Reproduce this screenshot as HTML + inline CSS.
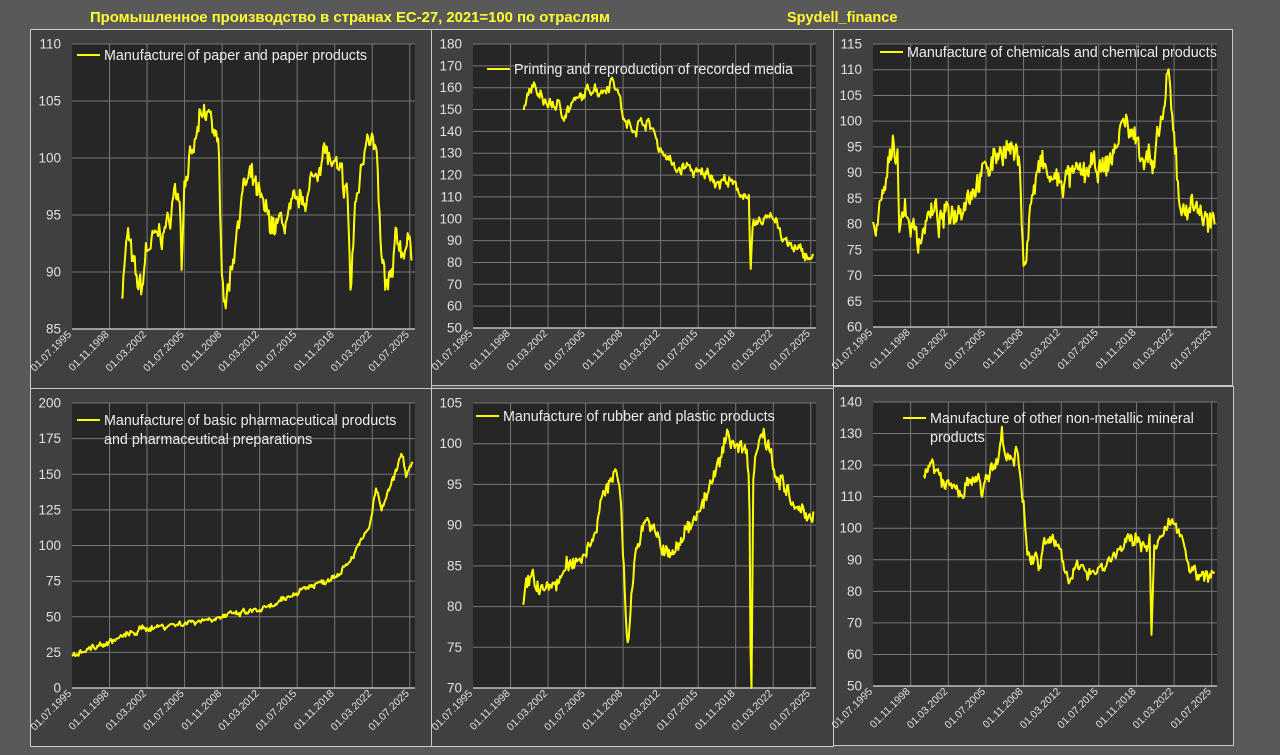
<!DOCTYPE html>
<html><head><meta charset="utf-8">
<style>
html,body{margin:0;padding:0;background:#595959;width:1280px;height:755px;overflow:hidden}
svg{display:block}
</style></head><body>
<svg id="s" width="1280" height="755" xmlns="http://www.w3.org/2000/svg" font-family="Liberation Sans, DejaVu Sans, sans-serif">
<rect x="0" y="0" width="1280" height="755" fill="#595959"/>
<text x="90" y="22" fill="#ffff33" font-size="14.5" font-weight="bold" textLength="520" lengthAdjust="spacingAndGlyphs">Промышленное производство в странах ЕС-27, 2021=100 по отраслям</text>
<text x="787" y="22" fill="#ffff33" font-size="14.5" font-weight="bold">Spydell_finance</text>
</svg>
<script>
var NS="http://www.w3.org/2000/svg",S=document.getElementById('s');
function el(t,a,p){var e=document.createElementNS(NS,t);for(var k in a)e.setAttribute(k,a[k]);(p||S).appendChild(e);return e;}
var seed=7;function rnd(){seed=(seed*16807)%2147483647;return seed/2147483647;}
var xl=["01.07.1995","01.11.1998","01.03.2002","01.07.2005","01.11.2008","01.03.2012","01.07.2015","01.11.2018","01.03.2022","01.07.2025"];
var P=[
{b:[30,29,401,359],p:[72,44,415,329],min:85,max:110,st:5,leg:["Manufacture of paper and paper products"],lx:77,ly:55,nz:0.9,
k:[[1999.9,88],[2000.3,92],[2000.5,93.5],[2000.8,91],[2001.3,89],[2001.7,88.5],[2002.1,92],[2003,93],[2004,94],[2004.6,97],[2005.1,96.5],[2005.25,90.5],[2005.45,98],[2006.2,100],[2006.8,103],[2007.8,104],[2008.2,102],[2008.5,100.5],[2008.9,89],[2009.2,87.5],[2009.6,90],[2010.3,95],[2010.8,97.5],[2011.5,98],[2012.3,96],[2012.8,95],[2013.5,94],[2014.5,94.5],[2015.5,96],[2016.5,97],[2017.3,99],[2017.8,101],[2018.5,99.5],[2019.5,98],[2020.0,96.5],[2020.25,88],[2020.6,95],[2021.3,100],[2021.8,103],[2022.3,101],[2022.6,99.5],[2022.9,92],[2023.3,89],[2023.6,88.5],[2024.0,90],[2024.3,93],[2024.8,92],[2025.3,92.5],[2025.8,91.5]]},
{b:[431,29,402,356],p:[473,44,816,328],min:50,max:180,st:10,leg:["Printing and reproduction of recorded media"],lx:487,ly:69,nz:2.2,
k:[[2000,152],[2000.5,158],[2001.0,161],[2001.3,156],[2002,153],[2003,152],[2003.5,148],[2004.5,153],[2005.5,157],[2006.2,161],[2006.8,158],[2007.5,161],[2007.9,165],[2008.5,156],[2009.0,143],[2010,142],[2010.6,145],[2011.5,141],[2012,133],[2012.8,128],[2013.5,122],[2014.5,124],[2015.5,120],[2016.5,121],[2017.3,116],[2018,118],[2019,113],[2019.8,111],[2020.0,108],[2020.15,73],[2020.35,96],[2021,98],[2021.9,103],[2022.5,99],[2023,90],[2024,86],[2025,84],[2025.8,81]]},
{b:[833,29,399,356],p:[873,44,1217,327],min:60,max:115,st:5,leg:["Manufacture of chemicals and chemical products"],lx:880,ly:52,nz:2.0,
k:[[1995.5,79],[1996,81],[1996.5,86],[1997,92],[1997.3,97],[1997.5,94],[1997.7,96],[1997.8,79],[1998.3,83],[1998.8,80],[1999.6,77],[2000.2,81],[2001,82],[2001.5,80],[2002,82],[2003,83],[2004,86],[2005,89],[2006,92],[2006.8,95],[2007.8,94],[2008.5,92],[2008.8,75],[2009.0,71],[2009.4,83],[2010,89],[2010.5,92],[2011,89],[2012,88],[2013,89],[2014,90],[2015,91],[2016,90],[2017,95],[2017.5,99],[2018,100],[2018.5,97],[2019,96],[2019.5,93],[2020,94],[2020.3,89],[2020.8,97],[2021.3,103],[2021.7,109],[2021.95,100],[2022.3,95],[2022.6,85],[2023,82],[2023.5,84],[2024.5,83],[2025,80],[2025.8,79]]},
{b:[30,388,401,358],p:[72,403,415,688],min:0,max:200,st:25,leg:["Manufacture of basic pharmaceutical products","and pharmaceutical preparations"],lx:77,ly:420,nz:1.8,
k:[[1995.5,24],[1998,30],[2000,36],[2002,42],[2005,45],[2008,49],[2011,53],[2013,56],[2014,60],[2016,70],[2018,75],[2019,80],[2020,88],[2021,100],[2022,115],[2022.5,140],[2023,125],[2024,145],[2024.8,165],[2025.2,150],[2025.8,158]]},
{b:[431,388,402,358],p:[473,403,816,688],min:70,max:105,st:5,leg:["Manufacture of rubber and plastic products"],lx:476,ly:416,nz:0.9,
k:[[1999.9,80],[2000.4,83],[2000.8,84],[2001.4,82],[2002,82],[2003,83],[2004,85],[2005,86],[2006,88],[2007,93],[2008,97],[2008.5,95],[2008.9,85],[2009.2,74.5],[2009.6,82],[2010,87],[2010.5,90],[2011,91],[2011.5,89],[2012.5,87],[2013,86],[2014,88],[2015,91],[2016,93],[2017,96],[2017.5,98],[2018,101],[2018.5,100.5],[2019,100],[2019.8,99],[2020.05,96],[2020.2,65],[2020.4,96],[2020.9,101],[2021.5,101],[2022,99],[2022.5,96],[2023,95],[2024,92],[2025,91],[2025.8,92]]},
{b:[833,386,400,359],p:[873,402,1217,686],min:50,max:140,st:10,leg:["Manufacture of other non-metallic mineral","products"],lx:903,ly:418,nz:1.9,
k:[[2000,117],[2000.8,120],[2001.5,115],[2002.5,113],[2003.3,111],[2004,114],[2005,115],[2005.2,110],[2005.5,116],[2006.2,118],[2006.6,121],[2006.9,132],[2007.1,124],[2007.6,122],[2008.0,122],[2008.2,127],[2008.5,118],[2008.7,112],[2008.9,108],[2009.1,92],[2009.5,90],[2010,91],[2010.2,86],[2010.6,94],[2011.4,97],[2011.8,95],[2012.2,92],[2012.6,88],[2013.0,82],[2013.5,87],[2014.5,87],[2015.5,87],[2016.5,90],[2017.5,94],[2018.3,96],[2019,96],[2019.9,95],[2020.0,97],[2020.15,65],[2020.4,92],[2020.8,96],[2021.3,98],[2021.8,101],[2022.2,103],[2022.6,100],[2023.0,96],[2023.5,89],[2024.2,84],[2024.6,86],[2025.3,85],[2025.8,85]]}
];
P.forEach(function(c){
 var b=c.b,p=c.p;
 el('rect',{x:b[0]+.5,y:b[1]+.5,width:b[2],height:b[3],fill:"#404040",stroke:"#c8c8c8","stroke-width":1});
 var L=p[0],T=p[1],R=p[2],B=p[3],W=R-L,H=B-T;
 el('rect',{x:L,y:T,width:W,height:H,fill:"#262626"});
 var pxy=(W-3)/30.2;
 function X(y){return L+(y-1995.5)*pxy;}
 function Y(v){return B-(v-c.min)/(c.max-c.min)*H;}
 for(var v=c.min;v<=c.max+1e-6;v+=c.st){
  var y=Y(v);
  el('line',{x1:L,x2:R,y1:y,y2:y,stroke:"#767676","stroke-width":1});
  var t=el('text',{x:L-11,y:y+4.5,fill:"#e0e0e0","font-size":13.5,"text-anchor":"end"});t.textContent=String(v);
 }
 for(var i=0;i<10;i++){
  var yr=1995.5+i*(10/3),x=X(yr);
  if(i>0)el('line',{x1:x,x2:x,y1:T,y2:B,stroke:"#767676","stroke-width":1});
  var t=el('text',{x:x,y:B+6,fill:"#e0e0e0","font-size":10.5,"text-anchor":"end",transform:"rotate(-45 "+x+" "+(B+6)+")"});t.textContent=xl[i];
 }
 el('line',{x1:L,x2:R,y1:B,y2:B,stroke:"#dddddd","stroke-width":1.2});
 var k=c.k,pts=[],ww=0;
 for(var yr=k[0][0];yr<=k[k.length-1][0]+1e-6;yr+=1/12){
  var j=0;while(j<k.length-2&&k[j+1][0]<yr)j++;
  var a=k[j],bb=k[j+1],f=Math.max(0,Math.min(1,(yr-a[0])/(bb[0]-a[0])));
  var v=a[1]+(bb[1]-a[1])*f;
  ww=ww*0.6+(rnd()-0.5)*c.nz*1.6;
  v+=ww+(rnd()-0.5)*c.nz*1.4;
  var yy=Math.min(B,Y(v));
  pts.push(X(yr).toFixed(1)+","+yy.toFixed(1));
 }
 el('polyline',{points:pts.join(" "),fill:"none",stroke:"#ffff00","stroke-width":2,"stroke-linejoin":"round"});
 el('line',{x1:c.lx,x2:c.lx+23,y1:c.ly,y2:c.ly,stroke:"#ffff00","stroke-width":2});
 c.leg.forEach(function(s,i){var t=el('text',{x:c.lx+27,y:c.ly+5+i*19,fill:"#ececec","font-size":14.3});t.textContent=s;});
});
</script>
</body></html>
